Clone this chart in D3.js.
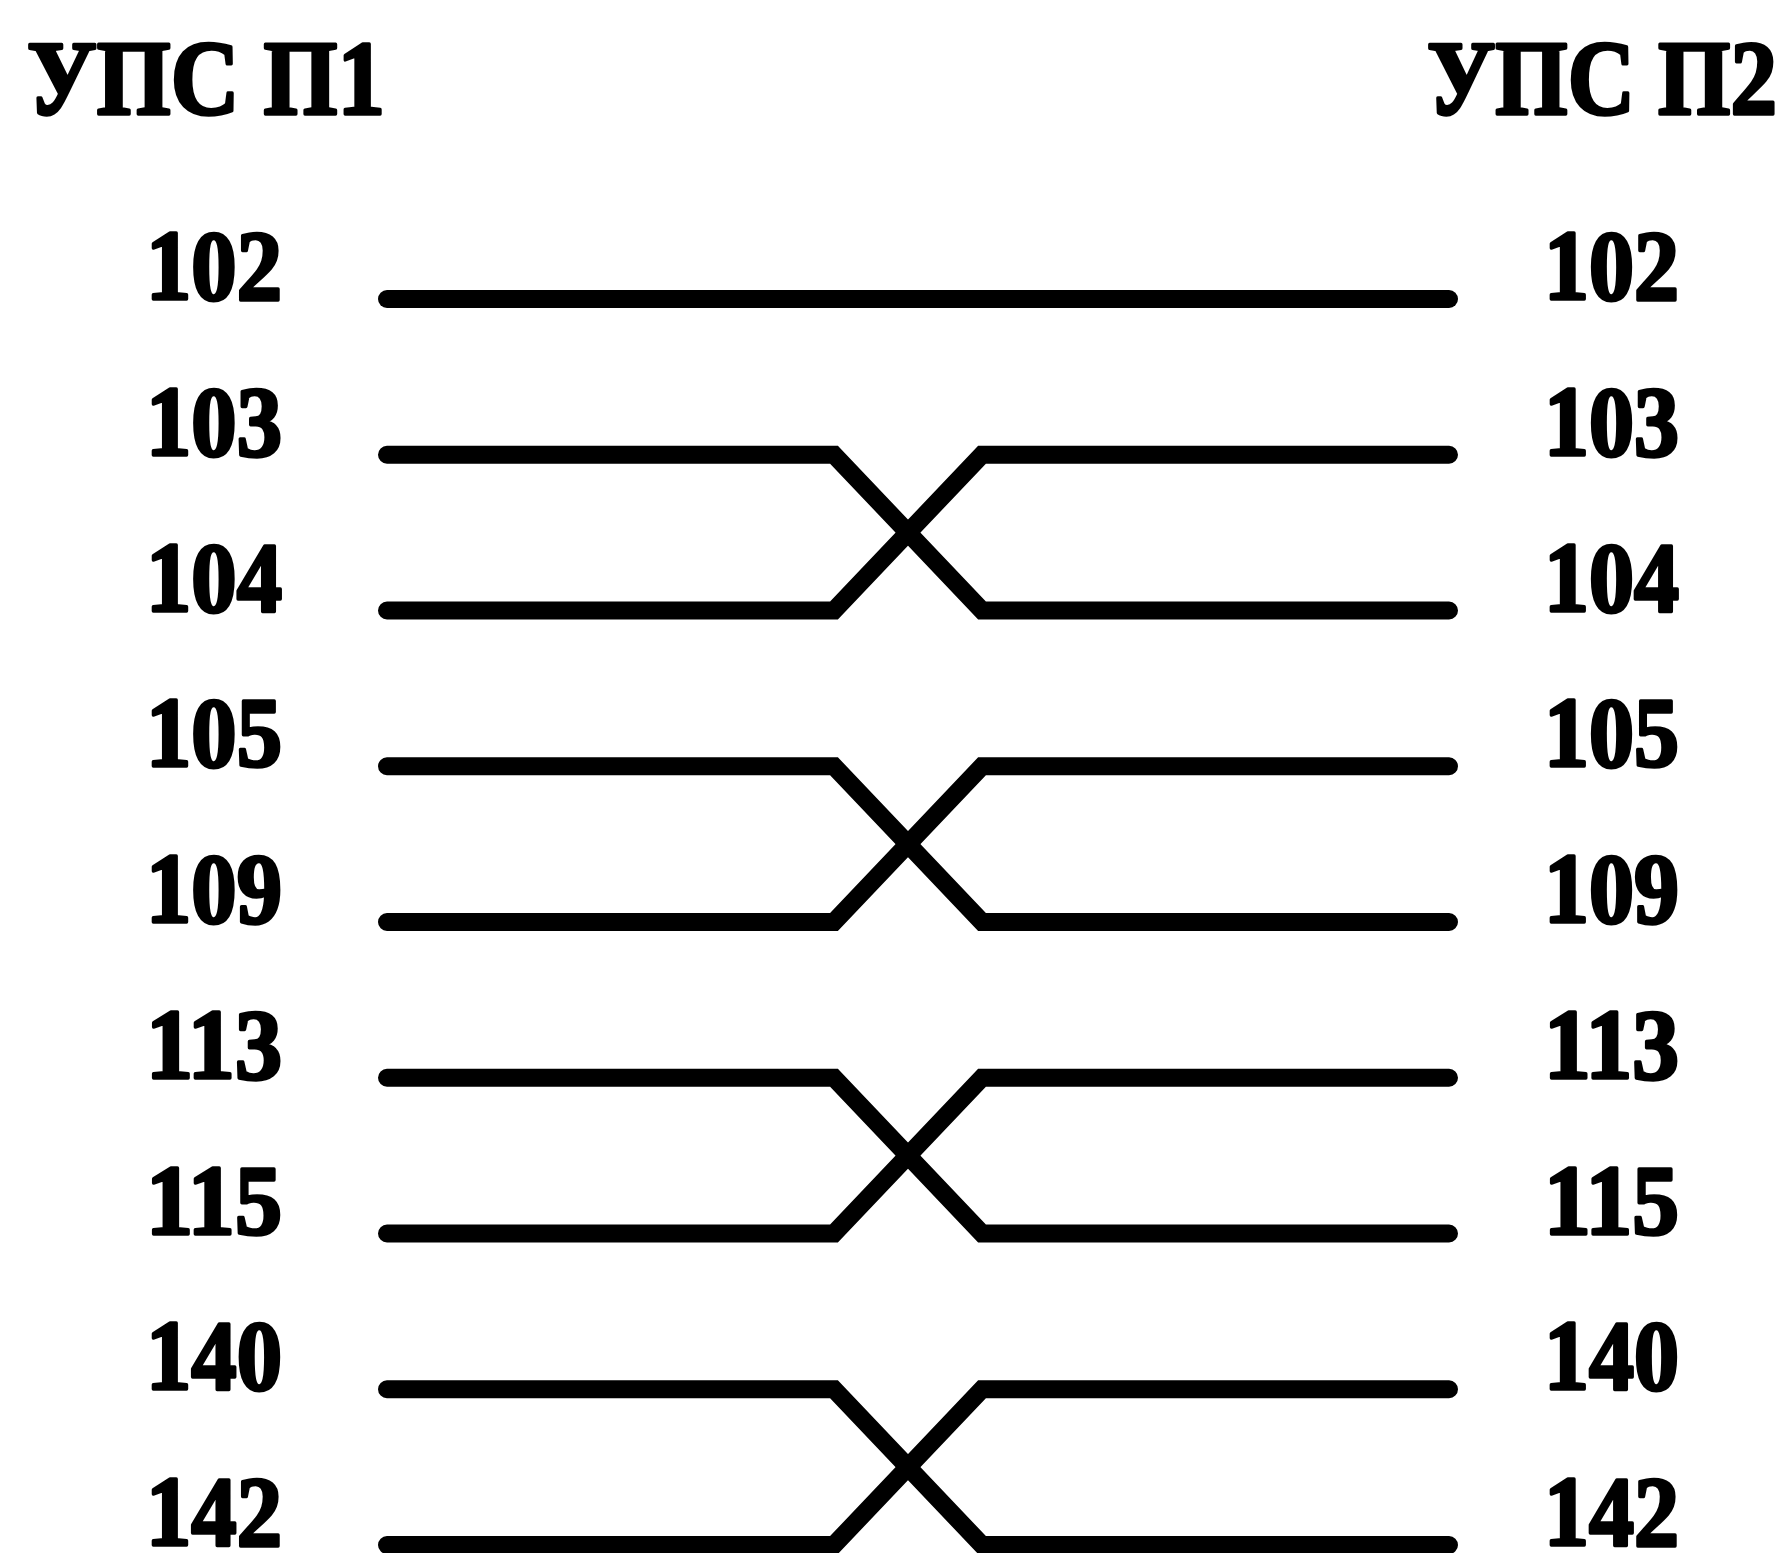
<!DOCTYPE html>
<html>
<head>
<meta charset="utf-8">
<script src="https://cdn.jsdelivr.net/npm/d3@7"></script>
<style>
	body { margin: 0; background: #fff; }
	text { font-family: "Liberation Serif", "Times New Roman", serif; font-weight: bold; fill: #000; stroke: #000; stroke-width: 3.5; stroke-linejoin: round; }
</style>
</head>
<body>
<div id="graph"></div>
<script>
// headers of the two terminal blocks
var leftTitle = "УПС П1";
var rightTitle = "УПС П2";

// wire numbers, top to bottom, on each side
var leftWires = ["102", "103", "104", "105", "109", "113", "115", "140", "142"];
var rightWires = ["102", "103", "104", "105", "109", "113", "115", "140", "142"];

// which right wire each left wire goes to (pairs are crossed)
var wireTarget = ["102", "104", "103", "109", "105", "115", "113", "142", "140"];

var width = 1791;
var height = 1553;

var svg = d3.select("#graph")
	.append("svg")
		.attr("width", width)
		.attr("height", height);

svg.append("rect")
	.attr("width", width)
	.attr("height", height)
	.attr("fill", "#fff");

var y = d3.scalePoint()
	.domain(leftWires)
	.range([299, 1545]);

var yRight = d3.scalePoint()
	.domain(rightWires)
	.range([299, 1545]);

// horizontal layout of a wire: start, bend, bend, end
var x = d3.scaleLinear()
	.domain([0, 1])
	.range([387, 1449]);
var crossX = 908;
var crossHalf = 74;

var line = d3.line()
	.x(function(d) { return d[0]; })
	.y(function(d) { return d[1]; });

var wires = leftWires.map(function(w, i) {
	var y0 = y(w);
	var y1 = yRight(wireTarget[i]);
	if (y0 === y1) return [[x(0), y0], [x(1), y1]];
	return [[x(0), y0], [crossX - crossHalf, y0], [crossX + crossHalf, y1], [x(1), y1]];
});

svg.append("g")
	.attr("class", "wires")
	.selectAll("path")
	.data(wires)
	.enter().append("path")
		.attr("d", line)
		.attr("fill", "none")
		.attr("stroke", "#000")
		.attr("stroke-width", 18)
		.attr("stroke-linecap", "round")
		.attr("stroke-linejoin", "miter");

// titles
svg.append("text")
	.attr("x", 27)
	.attr("y", 114)
	.attr("font-size", 106)
	.attr("textLength", 358)
	.attr("lengthAdjust", "spacingAndGlyphs")
	.text(leftTitle);

svg.append("text")
	.attr("x", 1427)
	.attr("y", 114)
	.attr("font-size", 106)
	.attr("textLength", 350)
	.attr("lengthAdjust", "spacingAndGlyphs")
	.text(rightTitle);

// wire labels
svg.append("g")
	.attr("class", "left-labels")
	.selectAll("text")
	.data(leftWires)
	.enter().append("text")
		.attr("x", 146)
		.attr("y", function(d) { return y(d); })
		.attr("font-size", 100)
		.attr("textLength", 136)
		.attr("lengthAdjust", "spacingAndGlyphs")
		.text(function(d) { return d; });

svg.append("g")
	.attr("class", "right-labels")
	.selectAll("text")
	.data(rightWires)
	.enter().append("text")
		.attr("x", 1544)
		.attr("y", function(d) { return yRight(d); })
		.attr("font-size", 100)
		.attr("textLength", 135)
		.attr("lengthAdjust", "spacingAndGlyphs")
		.text(function(d) { return d; });
</script>
</body>
</html>
